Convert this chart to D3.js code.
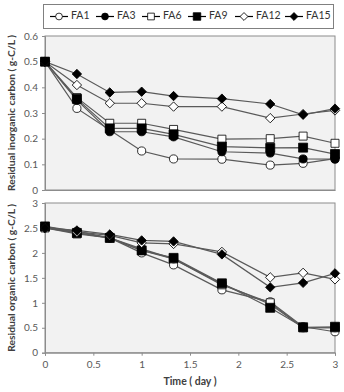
<!DOCTYPE html>
<html>
<head>
<meta charset="utf-8">
<script src="https://cdn.jsdelivr.net/npm/d3@7"></script>
<style>
  body { margin: 0; background: #fff; }
  text { font-family: Lato, "Open Sans", sans-serif; }
</style>
</head>
<body>
<div id="chart"></div>
<script>
// time points (day)
const days = [0, 0.33, 0.67, 1, 1.33, 1.83, 2.33, 2.67, 3];
const seriesNames = ["FA1", "FA3", "FA6", "FA9", "FA12", "FA15"];

// residual inorganic carbon (g-C/L)
const ic_FA1  = [0.5, 0.318, 0.234, 0.152, 0.121, 0.12, 0.097, 0.104, 0.122];
const ic_FA3  = [0.5, 0.35, 0.227, 0.227, 0.207, 0.149, 0.144, 0.121, 0.12];
const ic_FA6  = [0.5, 0.36, 0.26, 0.26, 0.236, 0.198, 0.2, 0.21, 0.182];
const ic_FA9  = [0.5, 0.355, 0.24, 0.24, 0.217, 0.169, 0.164, 0.165, 0.14];
const ic_FA12 = [0.5, 0.409, 0.338, 0.338, 0.325, 0.325, 0.28, 0.296, 0.31];
const ic_FA15 = [0.5, 0.452, 0.38, 0.383, 0.366, 0.356, 0.335, 0.293, 0.317];

// residual organic carbon (g-C/L)
const oc_FA1  = [2.53, 2.43, 2.3, 2.0, 1.76, 1.26, 1.02, 0.52, 0.42];
const oc_FA3  = [2.5, 2.4, 2.3, 2.08, 1.88, 1.38, 0.97, 0.5, 0.5];
const oc_FA6  = [2.5, 2.38, 2.3, 2.05, 1.88, 1.36, 1.0, 0.5, 0.5];
const oc_FA9  = [2.53, 2.4, 2.3, 2.05, 1.9, 1.39, 0.9, 0.51, 0.52];
const oc_FA12 = [2.5, 2.42, 2.35, 2.2, 2.18, 2.02, 1.51, 1.6, 1.47];
const oc_FA15 = [2.5, 2.45, 2.37, 2.25, 2.23, 1.97, 1.31, 1.4, 1.59];

const icTicks = [0, 0.1, 0.2, 0.3, 0.4, 0.5, 0.6];
const ocTicks = [0, 0.5, 1, 1.5, 2, 2.5, 3];
const dayTicks = [0, 0.5, 1, 1.5, 2, 2.5, 3];

const icData = [ic_FA1, ic_FA3, ic_FA6, ic_FA9, ic_FA12, ic_FA15];
const ocData = [oc_FA1, oc_FA3, oc_FA6, oc_FA9, oc_FA12, oc_FA15];

// marker style for each series (rot = rotate square into a diamond)
const markers = {
  FA1:  {shape: d3.symbolCircle, size: 52, fill: "#fff", rot: 0},
  FA3:  {shape: d3.symbolCircle, size: 52, fill: "#000", rot: 0},
  FA6:  {shape: d3.symbolSquare, size: 64, fill: "#fff", rot: 0},
  FA9:  {shape: d3.symbolSquare, size: 81, fill: "#000", rot: 0},
  FA12: {shape: d3.symbolSquare, size: 44, fill: "#fff", rot: 45},
  FA15: {shape: d3.symbolSquare, size: 44, fill: "#000", rot: 45}
};

const width = 344, height = 392;
const left = 45, right = 335;

const svg = d3.select("#chart").append("svg")
  .attr("width", width)
  .attr("height", height);

const x = d3.scaleLinear().domain([0, 3]).range([left, right]);

function panel(data, yDomain, ticks, top, bottom, title, showX) {
  const y = d3.scaleLinear().domain(yDomain).range([bottom, top]);

  svg.append("rect")
    .attr("x", left).attr("y", top)
    .attr("width", right - left).attr("height", bottom - top)
    .attr("fill", "#f2f2f2")
    .attr("stroke", "#8c8c8c");

  const yAxis = svg.append("g")
    .attr("transform", "translate(" + left + ",0)")
    .call(d3.axisLeft(y).tickValues(ticks).tickSize(3).tickPadding(4).tickFormat(d3.format("")));
  yAxis.select(".domain").attr("stroke", "#8c8c8c");
  yAxis.selectAll(".tick line").attr("stroke", "#8c8c8c");
  yAxis.selectAll("text").attr("fill", "#595959").style("font-size", "10px");

  const xAxis = svg.append("g")
    .attr("transform", "translate(0," + bottom + ")")
    .call(d3.axisBottom(x).tickValues(showX ? dayTicks : []).tickSize(showX ? 3 : 0).tickPadding(5).tickFormat(d3.format("")));
  xAxis.select(".domain").attr("stroke", "#8c8c8c");
  xAxis.selectAll(".tick line").attr("stroke", "#8c8c8c");
  xAxis.selectAll("text").attr("fill", "#595959").style("font-size", "10px");

  svg.append("text")
    .attr("transform", "translate(12," + ((top + bottom) / 2) + ") rotate(-90)")
    .attr("text-anchor", "middle")
    .attr("dominant-baseline", "middle")
    .attr("fill", "#404040")
    .style("font-size", "10.3px")
    .style("font-weight", "bold")
    .text(title);

  const line = d3.line()
    .x((d, i) => x(days[i]))
    .y(d => y(d));

  data.forEach(function(vals, k) {
    svg.append("path")
      .datum(vals)
      .attr("d", line)
      .attr("fill", "none")
      .attr("stroke", "#5a5a5a")
      .attr("stroke-width", 1.2);
  });

  data.forEach(function(vals, k) {
    const m = markers[seriesNames[k]];
    svg.append("g").selectAll("path")
      .data(vals)
      .enter().append("path")
      .attr("d", d3.symbol().type(m.shape).size(m.size))
      .attr("transform", (d, i) => "translate(" + x(days[i]) + "," + y(d) + ") rotate(" + m.rot + ")")
      .attr("fill", m.fill)
      .attr("stroke", "#000")
      .attr("stroke-width", 0.8);
  });
}

panel(icData, [0, 0.6], icTicks, 36, 190, "Residual inorganic carbon ( g-C/L )", false);
panel(ocData, [0, 3], ocTicks, 203, 352.7, "Residual organic carbon ( g-C/L )", true);

svg.append("text")
  .attr("x", 190).attr("y", 385)
  .attr("text-anchor", "middle")
  .attr("fill", "#404040")
  .style("font-size", "10.5px")
  .style("font-weight", "bold")
  .text("Time ( day )");

// legend
svg.append("rect")
  .attr("x", 43.5).attr("y", 4.5)
  .attr("width", 290).attr("height", 24)
  .attr("fill", "#fff")
  .attr("stroke", "#808080");

const legendX = [50, 96, 142, 188, 235, 285];
seriesNames.forEach(function(name, k) {
  const g = svg.append("g").attr("transform", "translate(" + legendX[k] + ",16.5)");
  g.append("line").attr("x1", 0).attr("x2", 18).attr("y1", 0).attr("y2", 0)
    .attr("stroke", "#000").attr("stroke-width", 1.2);
  const m = markers[name];
  g.append("path")
    .attr("d", d3.symbol().type(m.shape).size(m.size * 0.7))
    .attr("transform", "translate(9,0) rotate(" + m.rot + ")")
    .attr("fill", m.fill)
    .attr("stroke", "#000")
    .attr("stroke-width", 0.8);
  g.append("text")
    .attr("x", 21).attr("y", 0)
    .attr("dominant-baseline", "middle")
    .attr("fill", "#333")
    .style("font-size", "10.5px")
    .text(name);
});
</script>
</body>
</html>
